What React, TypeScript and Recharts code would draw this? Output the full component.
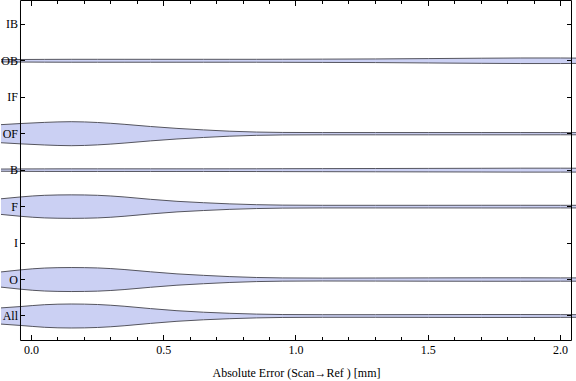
import React from "react";
import { AreaChart, Area, XAxis, YAxis, ReferenceLine } from "recharts";

// categories bottom -> top (All = 1 ... IB = 9)
const categories = ["All", "O", "I", "F", "B", "OF", "IF", "OB", "IB"];

const xGrid = [-0.1153, -0.04, 0.05, 0.15, 0.25, 0.35, 0.45, 0.55, 0.65, 0.75, 0.85, 0.95, 1.1, 1.3, 1.5, 1.7, 1.85, 2.0, 2.0586];

// half widths of each violin (in category units)
const allHalf = [0.222, 0.26, 0.31, 0.329, 0.315, 0.268, 0.203, 0.145, 0.104, 0.074, 0.052, 0.04, 0.036, 0.036, 0.038, 0.04, 0.04, 0.038, 0.036];
const oHalf = [0.208, 0.266, 0.315, 0.329, 0.318, 0.275, 0.212, 0.155, 0.115, 0.08, 0.056, 0.044, 0.04, 0.042, 0.045, 0.047, 0.047, 0.045, 0.045];
const fHalf = [0.214, 0.266, 0.31, 0.322, 0.31, 0.265, 0.2, 0.145, 0.107, 0.075, 0.053, 0.041, 0.036, 0.036, 0.036, 0.037, 0.037, 0.036, 0.036];
const bHalf = [0.03, 0.033, 0.035, 0.036, 0.036, 0.036, 0.036, 0.036, 0.036, 0.037, 0.038, 0.04, 0.042, 0.045, 0.048, 0.051, 0.054, 0.054, 0.053];
const ofHalf = [0.248, 0.279, 0.31, 0.329, 0.307, 0.258, 0.197, 0.145, 0.104, 0.068, 0.045, 0.034, 0.031, 0.031, 0.031, 0.031, 0.031, 0.03, 0.03];
const obHalf = [0.03, 0.035, 0.038, 0.04, 0.04, 0.04, 0.04, 0.04, 0.04, 0.04, 0.04, 0.042, 0.045, 0.05, 0.06, 0.07, 0.076, 0.076, 0.073];

const series = [
  { name: "All", half: allHalf },
  { name: "O", half: oHalf },
  { name: "F", half: fHalf },
  { name: "B", half: bHalf },
  { name: "OF", half: ofHalf },
  { name: "OB", half: obHalf },
];

const xMajor = [0, 0.5, 1, 1.5, 2];
const xTicks = [0, 0.1, 0.2, 0.3, 0.4, 0.5, 0.6, 0.7, 0.8, 0.9, 1, 1.1, 1.2, 1.3, 1.4, 1.5, 1.6, 1.7, 1.8, 1.9, 2];
const yTicks = [1, 2, 3, 4, 5, 6, 7, 8, 9];

const X_DOMAIN: [number, number] = [-0.1153, 2.0586];
const Y_DOMAIN: [number, number] = [0.328, 9.653];
const FRAME_L = -0.0416;
const FRAME_R = 2.0416;

const FONT = "'Liberation Serif', 'Times New Roman', serif";
const FILL = "#cbd0f3";
const EDGE = "#55555f";

const rows = xGrid.map((x, i) => {
  const row: any = { x };
  series.forEach((s) => {
    const c = categories.indexOf(s.name) + 1;
    row[s.name] = [c - s.half[i], c + s.half[i]];
  });
  return row;
});

const isMajor = (v: number) => xMajor.some((m) => Math.abs(m - v) < 1e-9);

const XTick = (props: any) => {
  const { x, y, payload } = props;
  const major = isMajor(payload.value);
  const len = major ? 5 : 3;
  const px = Math.floor(x);
  const base = Math.floor(y);
  return (
    <g>
      <rect x={px} y={base - len} width={1} height={len} fill="#000" />
      <rect x={px} y={1} width={1} height={len} fill="#000" />
      {major && (
        <text x={x} y={y + 13.5} textAnchor="middle" fontSize={12} fontFamily={FONT} fill="#000">
          {payload.value.toFixed(1)}
        </text>
      )}
    </g>
  );
};

const YTick = (props: any) => {
  const { y, payload } = props;
  const py = Math.floor(y);
  return (
    <g>
      <rect x={21} y={py} width={4} height={1} fill="#000" />
      <rect x={567} y={py} width={4} height={1} fill="#000" />
      <text x={18} y={y + 4} textAnchor="end" fontSize={12} fontFamily={FONT} fill="#000">
        {categories[payload.value - 1]}
      </text>
    </g>
  );
};

const frame = [
  [{ x: FRAME_L, y: Y_DOMAIN[0] }, { x: FRAME_R, y: Y_DOMAIN[0] }],
  [{ x: FRAME_L, y: Y_DOMAIN[1] }, { x: FRAME_R, y: Y_DOMAIN[1] }],
  [{ x: FRAME_L, y: Y_DOMAIN[0] }, { x: FRAME_L, y: Y_DOMAIN[1] }],
  [{ x: FRAME_R, y: Y_DOMAIN[0] }, { x: FRAME_R, y: Y_DOMAIN[1] }],
];

export default function App() {
  return (
    <div style={{ position: "absolute", left: 0, top: 0, background: "#fff" }}>
      <AreaChart width={576} height={381} data={rows} margin={{ top: 0.5, right: 0, bottom: 0.5, left: 0 }}>
        {series.map((s) => (
          <Area
            key={s.name}
            dataKey={s.name}
            type="monotone"
            fill={FILL}
            fillOpacity={1}
            stroke={EDGE}
            strokeWidth={1}
            dot={false}
            activeDot={false}
            isAnimationActive={false}
          />
        ))}
        {frame.map((seg, i) => (
          <ReferenceLine key={`f${i}`} segment={seg} stroke="#000" ifOverflow="visible" />
        ))}
        <XAxis
          dataKey="x"
          type="number"
          domain={X_DOMAIN}
          ticks={xTicks}
          interval={0}
          axisLine={false}
          tickLine={false}
          tickSize={0}
          tickMargin={0}
          height={40}
          tick={<XTick />}
          label={{
            value: "Absolute Error (Scan\u2192Ref ) [mm]",
            position: "insideBottom",
            offset: 4,
            dx: 8,
            style: { fontFamily: FONT, fontSize: 12, fill: "#000" },
          }}
        />
        <YAxis
          type="number"
          domain={Y_DOMAIN}
          ticks={yTicks}
          interval={0}
          width={1}
          axisLine={false}
          tickLine={false}
          tickSize={0}
          tickMargin={0}
          tick={<YTick />}
        />
      </AreaChart>
    </div>
  );
}
